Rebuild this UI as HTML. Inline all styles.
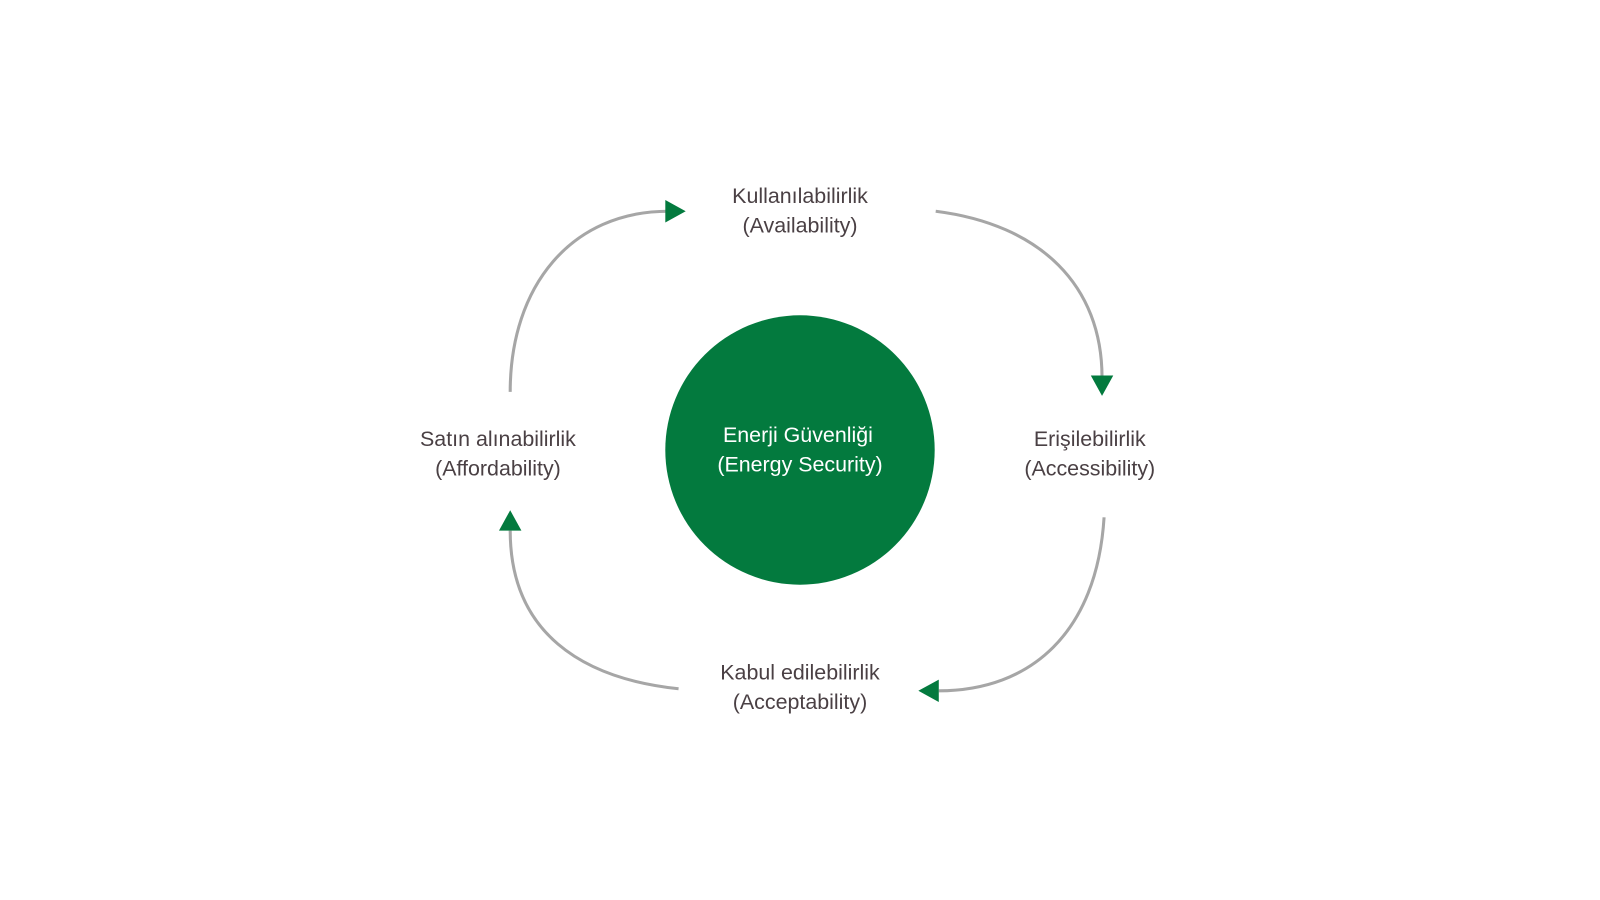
<!DOCTYPE html>
<html><head><meta charset="utf-8"><style>
body{margin:0;background:#fff;width:1600px;height:900px;overflow:hidden}
svg{display:block}
text{font-family:"Liberation Sans",sans-serif;font-size:21px;text-anchor:middle}
</style></head><body>
<svg width="1600" height="900" viewBox="0 0 1600 900">
<g transform="scale(1.0204)">
<g fill="none" stroke="#a6a6a6" stroke-width="3">
<path d="M500,384 C500,280 560,207 655,207"/>
<path d="M917,207 C1020,220 1080,280 1080,370"/>
<path d="M1082,507 C1075,620 1010,677 920,677"/>
<path d="M665,675 C570,665 500,620 500,520"/>
</g>
<g fill="#037a3e">
<polygon points="652,196 672,207 652,218"/>
<polygon points="1069,368 1091,368 1080,388"/>
<polygon points="920,666 920,688 900,677"/>
<polygon points="489,520 511,520 500,500"/>
<circle cx="784" cy="441" r="132"/>
</g>
<g fill="#4a4044">
<text x="784" y="199">Kullanılabilirlik</text>
<text x="784" y="228">(Availability)</text>
<text x="1068" y="437">Erişilebilirlik</text>
<text x="1068" y="466">(Accessibility)</text>
<text x="784" y="666">Kabul edilebilirlik</text>
<text x="784" y="695">(Acceptability)</text>
<text x="488" y="437">Satın alınabilirlik</text>
<text x="488" y="466">(Affordability)</text>
</g>
<g fill="#fff">
<text x="782" y="433">Enerji Güvenliği</text>
<text x="784" y="462">(Energy Security)</text>
</g>
</g>
</svg>
</body></html>
